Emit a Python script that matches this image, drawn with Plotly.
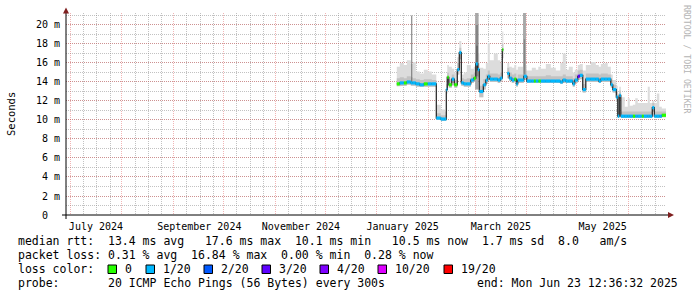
import plotly.graph_objects as go

# ---------------- data ----------------
dates = [
    "2025-01-13 00:00", "2025-01-14 19:00", "2025-01-17 05:00", "2025-01-19 00:00",
    "2025-01-21 10:00", "2025-01-22 14:00", "2025-01-24 10:00", "2025-01-26 19:00",
    "2025-01-29 05:00", "2025-01-31 14:00", "2025-02-03 00:00", "2025-02-05 17:00",
    "2025-02-08 10:00", "2025-02-10 19:00", "2025-02-11 17:00", "2025-02-12 07:00",
    "2025-02-13 05:00", "2025-02-15 00:00", "2025-02-16 12:00", "2025-02-18 07:00",
    "2025-02-19 12:00", "2025-02-20 17:00", "2025-02-22 05:00", "2025-02-24 00:00",
    "2025-02-26 10:00", "2025-02-28 05:00", "2025-03-01 10:00", "2025-03-02 14:00",
    "2025-03-03 12:00", "2025-03-05 22:00", "2025-03-07 10:00", "2025-03-08 14:00",
    "2025-03-09 19:00", "2025-03-12 05:00", "2025-03-14 14:00", "2025-03-16 02:00",
    "2025-03-17 07:00", "2025-03-17 22:00", "2025-03-20 07:00", "2025-03-21 12:00",
    "2025-03-23 00:00", "2025-03-24 12:00", "2025-03-25 17:00", "2025-03-26 14:00",
    "2025-03-30 05:00", "2025-04-01 00:00", "2025-04-04 00:00", "2025-04-05 05:00",
    "2025-04-06 10:00", "2025-04-07 22:00", "2025-04-09 10:00", "2025-04-12 10:00",
    "2025-04-15 10:00", "2025-04-18 10:00", "2025-04-21 02:00", "2025-04-22 14:00",
    "2025-04-24 10:00", "2025-04-26 05:00", "2025-04-28 14:00", "2025-04-29 19:00",
    "2025-05-01 14:00", "2025-05-02 19:00", "2025-05-04 14:00", "2025-05-06 10:00",
    "2025-05-09 10:00", "2025-05-12 10:00", "2025-05-14 05:00", "2025-05-15 10:00",
    "2025-05-17 19:00", "2025-05-19 14:00", "2025-05-21 10:00", "2025-05-22 14:00",
    "2025-05-24 17:00", "2025-05-25 14:00", "2025-05-26 12:00", "2025-05-27 10:00",
    "2025-05-29 19:00", "2025-05-31 14:00", "2025-06-01 19:00", "2025-06-03 14:00",
    "2025-06-05 02:00", "2025-06-06 14:00", "2025-06-09 00:00", "2025-06-10 05:00",
    "2025-06-12 14:00", "2025-06-13 19:00", "2025-06-15 07:00", "2025-06-16 12:00",
    "2025-06-18 00:00", "2025-06-19 12:00", "2025-06-21 00:00",
]
median_ms = [
    13.8, 13.9, 13.9, 14.0, 13.9, 13.9, 13.8, 13.7, 13.8, 13.8, 13.8, 10.2,
    10.1, 10.1, 13.2, 14.5, 13.7, 14.3, 13.7, 15.3, 17.1, 13.9, 13.8, 13.8,
    14.2, 14.4, 15.9, 15.3, 13.0, 13.7, 14.2, 14.6, 14.3, 14.3, 14.2, 14.4,
    17.4, None, 14.9, 14.4, 14.2, 14.3, 13.8, 14.2, 14.6, 14.1, 14.1, 14.1,
    14.1, 14.1, 14.1, 14.1, 14.1, 14.1, 14.0, 14.2, 14.1, 14.1, 13.8, 14.2,
    14.6, 14.7, 13.2, 14.3, 14.3, 14.3, 14.1, 14.3, 14.3, 14.3, 13.7, 13.2,
    12.4, 10.4, 12.6, 10.4, 10.4, 10.4, 10.4, 10.4, 10.4, 10.4, 10.4, 10.4,
    10.4, 10.4, 11.3, 10.4, 10.4, 10.4, 10.5,
]
loss_bucket = [
    0, 1, 0, 1, 1, 1, 1, 1, 0, 1, 1, 1,
    1, 1, 1, 0, 0, 1, 0, 1, 1, 1, 1, 1,
    1, 0, 1, 1, 1, 1, 1, 1, 1, 1, 1, 1,
    0, None, 1, 1, 1, 0, 1, 1, 1, 1, 1, 0,
    1, 0, 1, 1, 1, 1, 1, 1, 1, 1, 1, 1,
    3, 1, 1, 1, 1, 1, 1, 1, 1, 1, 1, 1,
    1, 1, 1, 1, 1, 1, 1, 0, 1, 1, 0, 1,
    1, 1, 1, 1, 1, 1, 0,
]
smoke_low = [
    13.55, 13.6, 13.6, 13.7, 13.6, 13.6, 13.5, 13.5, 13.5, 13.5, 13.5, 10.0,
    9.9, 9.9, 12.8, 14.0, 13.4, 13.9, 13.4, 14.8, 16.4, 13.6, 13.5, 13.5,
    13.9, 14.0, 15.0, 14.5, 12.4, 13.2, 13.8, 14.2, 14.0, 14.0, 13.9, 14.1,
    16.5, None, 14.4, 14.1, 13.9, 14.0, 13.5, 13.9, 14.2, 13.9, 13.9, 13.9,
    13.9, 13.9, 13.9, 13.9, 13.9, 13.9, 13.8, 13.9, 13.9, 13.9, 13.5, 13.9,
    14.2, 14.3, 12.9, 14.0, 14.0, 14.0, 13.9, 14.0, 14.0, 14.0, 13.4, 12.9,
    12.0, 10.2, 12.2, 10.2, 10.2, 10.2, 10.2, 10.2, 10.2, 10.2, 10.2, 10.2,
    10.2, 10.2, 10.9, 10.2, 10.2, 10.2, 10.3,
]
smoke_mid = [
    14.4, 14.5, 14.4, 14.6, 14.5, 14.4, 14.3, 14.2, 14.3, 14.3, 14.2, 10.7,
    10.5, 10.5, 13.8, 15.0, 14.3, 14.8, 14.2, 16.0, 17.6, 14.4, 14.3, 14.4,
    14.8, 15.0, 16.5, 16.0, 13.6, 14.3, 14.8, 15.2, 14.9, 14.9, 14.8, 15.0,
    18.0, None, 15.5, 15.0, 14.8, 14.9, 14.4, 14.8, 15.2, 14.6, 14.6, 14.6,
    14.6, 14.6, 14.6, 14.7, 14.6, 14.6, 14.6, 14.8, 14.6, 14.6, 14.4, 14.8,
    15.2, 15.3, 13.8, 14.9, 14.9, 14.9, 14.8, 14.9, 14.9, 14.8, 14.2, 13.7,
    13.0, 11.0, 13.1, 10.9, 10.9, 10.9, 10.9, 10.9, 10.9, 10.9, 10.9, 10.9,
    10.9, 10.9, 11.8, 10.9, 10.9, 10.9, 10.9,
]
smoke_high = [
    15.6, 16.0, 15.8, 16.3, 15.9, 16.1, 15.1, 14.9, 15.3, 15.1, 14.8, 11.6,
    11.1, 10.9, 14.6, 15.8, 15.6, 15.4, 15.0, 16.6, 18.3, 14.8, 15.0, 15.8,
    15.4, 15.6, 17.5, 17.0, 15.5, 15.4, 16.0, 18.1, 16.3, 17.0, 16.3, 16.0,
    19.3, None, 16.0, 15.6, 15.5, 15.8, 15.3, 15.6, 15.8, 15.2, 15.5, 15.5,
    15.3, 15.6, 15.4, 15.9, 15.5, 15.2, 16.0, 17.0, 15.3, 15.6, 15.0, 15.3,
    15.8, 15.9, 15.2, 15.8, 16.1, 15.8, 15.6, 15.9, 16.0, 15.6, 14.8, 14.2,
    13.6, 12.8, 13.5, 12.4, 11.4, 12.3, 11.5, 11.6, 12.3, 11.8, 11.8, 11.8,
    13.5, 11.8, 12.0, 11.8, 12.8, 11.4, 11.2,
]
range_start = "2024-06-28 12:36:32"
range_end = "2025-06-23 12:36:32"

# dense smoke spikes (start, end, low, high, density layer 0=outer .. 2=inner)
spike_start = ["2025-01-21 18:00", "2025-03-01 00:00", "2025-03-01 10:00", "2025-03-01 18:00",
               "2025-03-29 18:00", "2025-03-30 05:00"]
spike_end = ["2025-01-22 06:00", "2025-03-03 02:00", "2025-03-02 20:00", "2025-03-02 12:00",
             "2025-03-31 12:00", "2025-03-31 00:00"]
spike_low = [14.0, 13.2, 14.6, 15.2, 14.6, 14.8]
spike_high = [21.0, 21.3, 20.0, 17.8, 21.3, 18.5]
spike_layer = [2, 0, 1, 2, 0, 1]

loss_labels = ["0", "1/20", "2/20", "3/20", "4/20", "10/20", "19/20"]
loss_colors = ["#26ff00", "#00b8ff", "#0059ff", "#5e00ff", "#7e00ff", "#dd00ff", "#ff0000"]

y_tick_vals = [0, 2, 4, 6, 8, 10, 12, 14, 16, 18, 20]
y_tick_text = ["0\u00a0\u00a0", "2 m", "4 m", "6 m", "8 m", "10 m", "12 m", "14 m",
               "16 m", "18 m", "20 m"]
month_starts = ["2024-07-01", "2024-08-01", "2024-09-01", "2024-10-01", "2024-11-01",
                "2024-12-01", "2025-01-01", "2025-02-01", "2025-03-01", "2025-04-01",
                "2025-05-01", "2025-06-01"]
minor_days = [9, 17, 25]
x_label_dates = ["2024-07-16 12:00", "2024-09-16 12:00", "2024-11-16 12:00",
                 "2025-01-16 12:00", "2025-03-16 12:00", "2025-05-16 12:00"]
x_label_text = ["July 2024", "September 2024", "November 2024", "January 2025",
                "March 2025", "May 2025"]

stat_median = "median rtt:  13.4 ms avg   17.6 ms max  10.1 ms min   10.5 ms now  1.7 ms sd  8.0   am/s"
stat_loss = "packet loss: 0.31 % avg  16.84 % max  0.00 % min  0.28 % now"
stat_color_title = "loss color:"
stat_probe = "probe:       20 ICMP Echo Pings (56 Bytes) every 300s"
stat_end = "end: Mon Jun 23 12:36:32 2025"
y_title = "Seconds"
watermark = "RRDTOOL / TOBI OETIKER"

# ---------------- layout constants (pixels) ----------------
W, H = 697, 297
L, R, T, B = 66, 31, 13, 82
PW, PH = W - L - R, H - T - B
Y_MAX = 21.26
MONO = "DejaVu Sans Mono"
MAJOR_GRID = "rgba(222,79,79,0.42)"
MINOR_GRID = "rgba(143,143,143,0.55)"


def px(x):
    return (x - L) / PW


def py(y):
    return (H - B - y) / PH


# ---------------- build runs (split at missing data) ----------------
runs = []
cur = []
for i, m in enumerate(median_ms):
    if m is None:
        if cur:
            runs.append((cur, dates[i]))
        cur = []
    else:
        cur.append(i)
if cur:
    runs.append((cur, range_end))


def step_xy(idx, end, vals):
    xs, ys = [], []
    for k, i in enumerate(idx):
        nxt = dates[idx[k + 1]] if k + 1 < len(idx) else end
        xs += [dates[i], nxt]
        ys += [vals[i], vals[i]]
    return xs, ys


fig = go.Figure()


def band(lo, hi, color):
    for idx, end in runs:
        xu, yu = step_xy(idx, end, hi)
        xl, yl = step_xy(idx, end, lo)
        fig.add_trace(go.Scatter(
            x=xu + xl[::-1], y=yu + yl[::-1], fill="toself", fillcolor=color,
            mode="lines", line=dict(width=0), hoverinfo="skip", showlegend=False))


band(smoke_low, smoke_high, "#dcdcdc")
band(smoke_low, smoke_mid, "#c2c2c2")

spike_colors = ["#a8a8a8", "#858585", "#5a5a5a"]
for s, e, lo, hi, lay in zip(spike_start, spike_end, spike_low, spike_high, spike_layer):
    fig.add_trace(go.Scatter(
        x=[s, e, e, s], y=[lo, lo, hi, hi], fill="toself", fillcolor=spike_colors[lay],
        mode="lines", line=dict(width=0), hoverinfo="skip", showlegend=False))

# median black line
mx, my = [], []
for idx, end in runs:
    xs, ys = step_xy(idx, end, median_ms)
    mx += xs + [None]
    my += ys + [None]
fig.add_trace(go.Scatter(x=mx, y=my, mode="lines", line=dict(color="#202020", width=1.2),
                         hoverinfo="skip", showlegend=False))

# loss colored bands
for b, col in enumerate(loss_colors):
    bx, by = [], []
    for idx, end in runs:
        for k, i in enumerate(idx):
            if loss_bucket[i] != b:
                continue
            nxt = dates[idx[k + 1]] if k + 1 < len(idx) else end
            bx += [dates[i], nxt, None]
            by += [median_ms[i], median_ms[i], None]
    if bx:
        fig.add_trace(go.Scatter(x=bx, y=by, mode="lines", line=dict(color=col, width=3.2),
                                 hoverinfo="skip", showlegend=False))

# label axis trace
fig.add_trace(go.Scatter(x=[range_start, range_end], y=[None, None], xaxis="x2",
                         mode="lines", hoverinfo="skip", showlegend=False))

minor_vals = [m[:8] + "%02d" % d for m in month_starts for d in minor_days]

fig.update_layout(
    width=W, height=H, margin=dict(l=L, r=R, t=T, b=B),
    paper_bgcolor="white", plot_bgcolor="white",
    xaxis=dict(type="date", range=[range_start, range_end], tickmode="array",
               tickvals=month_starts, showticklabels=False, ticks="",
               showgrid=True, gridcolor=MAJOR_GRID, griddash="1px,1px", gridwidth=1,
               minor=dict(tickmode="array", tickvals=minor_vals, showgrid=True,
                          gridcolor=MINOR_GRID, griddash="1px,1px", gridwidth=1),
               showline=False, zeroline=False, fixedrange=True),
    xaxis2=dict(type="date", range=[range_start, range_end], overlaying="x", side="bottom",
                tickmode="array", tickvals=x_label_dates, ticktext=x_label_text,
                showgrid=False, ticks="outside", ticklen=2, tickcolor="rgba(0,0,0,0)",
                tickfont=dict(family=MONO, size=10, color="#000"), showline=False,
                zeroline=False),
    yaxis=dict(range=[0, Y_MAX], tickmode="array", tickvals=y_tick_vals, ticktext=y_tick_text,
               showgrid=True, gridcolor=MAJOR_GRID, griddash="1px,1px", gridwidth=1,
               minor=dict(dtick=1, showgrid=True, gridcolor=MINOR_GRID,
                          griddash="1px,1px", gridwidth=1),
               ticks="outside", ticklen=3, tickcolor="rgba(0,0,0,0)",
               tickfont=dict(family=MONO, size=10, color="#000"),
               showline=False, zeroline=False),
)

shapes = []
# axes lines
shapes.append(dict(type="line", xref="paper", yref="paper", x0=px(62), x1=px(669),
                   y0=py(215), y1=py(215), line=dict(color="#000", width=1)))
shapes.append(dict(type="line", xref="paper", yref="paper", x0=px(66), x1=px(66),
                   y0=py(219), y1=py(12), line=dict(color="#000", width=1)))
# arrows
shapes.append(dict(type="path", xref="paper", yref="paper",
                   path="M %f,%f L %f,%f L %f,%f Z" % (px(668), py(212), px(674), py(215),
                                                       px(668), py(218)),
                   fillcolor="#7f1f1f", line=dict(width=0)))
shapes.append(dict(type="path", xref="paper", yref="paper",
                   path="M %f,%f L %f,%f L %f,%f Z" % (px(63), py(13.5), px(66), py(7.5),
                                                       px(69), py(13.5)),
                   fillcolor="#7f1f1f", line=dict(width=0)))

annotations = []


def text(x, y, s, anchor="left", size=11.5, color="#000", family=MONO, angle=0):
    annotations.append(dict(xref="paper", yref="paper", x=px(x), y=py(y), text=s.replace(" ", "\u00a0"),
                            showarrow=False, xanchor=anchor, yanchor="middle", textangle=angle,
                            font=dict(family=family, size=size, color=color)))


text(16, 241, stat_median)
text(16, 255, stat_loss)
text(16, 269, stat_color_title)
text(16, 283, stat_probe)
text(680, 283, stat_end, anchor="right")

box_left = [108, 146, 204, 262, 320, 378, 444]
for bl, lab, col in zip(box_left, loss_labels, loss_colors):
    shapes.append(dict(type="rect", xref="paper", yref="paper", x0=px(bl), x1=px(bl + 8.5),
                       y0=py(273.5), y1=py(265), fillcolor=col, line=dict(color="#000", width=1)))
    text(bl + 14.5, 269, lab)

annotations.append(dict(xref="paper", yref="paper", x=px(11), y=py(114), text=y_title,
                        showarrow=False, xanchor="center", yanchor="middle", textangle=-90,
                        font=dict(family=MONO, size=10.5, color="#000")))
annotations.append(dict(xref="paper", yref="paper", x=px(687), y=py(59), text=watermark.replace(" ", "\u00a0"),
                        showarrow=False, xanchor="center", yanchor="middle", textangle=90,
                        font=dict(family=MONO, size=8.2, color="#b4b4b4")))

fig.update_layout(shapes=shapes, annotations=annotations)
fig.write_html("out.html")
